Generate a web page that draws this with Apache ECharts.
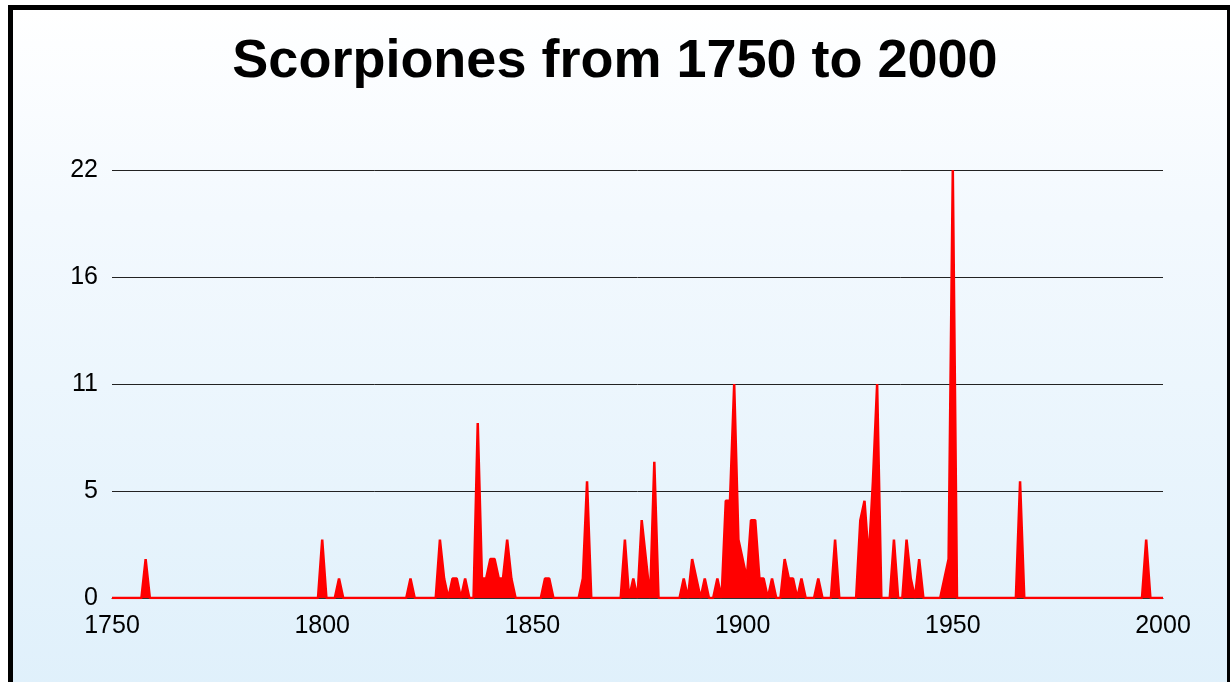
<!DOCTYPE html>
<html>
<head>
<meta charset="utf-8">
<script src="https://cdn.jsdelivr.net/npm/echarts@6/dist/echarts.min.js"></script>
<style>
  html, body { margin: 0; padding: 0; background: #fff; overflow: hidden; }
  #frame {
    position: absolute; left: 8px; top: 5px; width: 1224px; height: 700px;
    box-sizing: border-box; border: 5px solid #000;
    background: linear-gradient(#ffffff 0%, #f3f9fe 30%, #dff0fb 100%);
  }
  #chart { position: absolute; left: 0; top: 0; width: 1230px; height: 682px; }
</style>
</head>
<body>
<div id="frame"></div>
<div id="chart"></div>
<script>
// years with at least one species described; all other years are 0
var years = [1758, 1800, 1804, 1821, 1828, 1829, 1831, 1832, 1834, 1837,
  1838, 1839, 1840, 1841, 1842, 1843, 1844, 1845, 1853, 1854,
  1862, 1863, 1872, 1874, 1876, 1877, 1879, 1886, 1888, 1889,
  1891, 1894, 1896, 1897, 1898, 1899, 1900, 1901, 1902, 1903,
  1904, 1905, 1907, 1910, 1911, 1912, 1914, 1918, 1922, 1928,
  1929, 1930, 1931, 1932, 1936, 1939, 1940, 1942, 1948, 1949,
  1950, 1966, 1996];
var counts = [2, 3, 1, 1, 3, 1, 1, 1, 1, 9,
  1, 1, 2, 2, 1, 1, 3, 1, 1, 1,
  1, 6, 3, 1, 4, 2, 7, 1, 2, 1,
  1, 1, 5, 5, 11, 3, 2, 1, 4, 4,
  1, 1, 1, 2, 1, 1, 1, 1, 3, 4,
  5, 2, 6, 11, 3, 3, 1, 2, 1, 2,
  22, 6, 3];
var startYear = 1750;
var endYear = 2000;
var yTicks = [0, 5.5, 11, 16.5, 22];

var lookup = {};
years.forEach(function (y, i) { lookup[y] = counts[i]; });
var seriesData = [];
for (var y = startYear; y <= endYear; y++) {
  seriesData.push([y, lookup[y] || 0]);
}

var chart = echarts.init(document.getElementById('chart'));
var font = '"Liberation Sans", Arial, Helvetica, sans-serif';

var option = {
  backgroundColor: 'transparent',
  animation: false,
  title: {
    text: 'Scorpiones from 1750 to 2000',
    left: 'center',
    top: 30,
    textStyle: { fontFamily: font, fontWeight: 'bold', fontSize: 54, color: '#000' }
  },
  grid: { left: 112, right: 67, top: 170, bottom: 84 },
  xAxis: {
    type: 'value',
    min: startYear,
    max: endYear,
    interval: 50,
    z: 3,
    axisLine: { show: true, lineStyle: { color: '#333', width: 1 } },
    axisTick: { show: false },
    splitLine: { show: false },
    axisLabel: {
      fontFamily: font, fontSize: 25, color: '#000', margin: 16,
      formatter: function (v) { return String(v); }
    }
  },
  yAxis: {
    type: 'value',
    min: 0,
    max: 22,
    interval: 5.5,
    z: 0,
    axisLine: { show: false },
    axisTick: { show: false },
    splitLine: { show: true, lineStyle: { color: '#222', width: 1 } },
    axisLabel: {
      fontFamily: font, fontSize: 25, color: '#000', margin: 14,
      formatter: function (v) { return yTicks.indexOf(v) >= 0 ? String(Math.floor(v)) : ''; }
    }
  },
  series: [
    {
      // filled area below the counts
      type: 'line',
      data: seriesData,
      z: 2,
      symbol: 'none',
      lineStyle: { width: 0 },
      areaStyle: { color: '#ff0000', opacity: 1 }
    },
    {
      // outline on top of the axis line
      type: 'line',
      data: seriesData,
      z: 4,
      symbol: 'none',
      lineStyle: { color: '#ff0000', width: 2.5 }
    }
  ]
};
chart.setOption(option);
</script>
</body>
</html>
